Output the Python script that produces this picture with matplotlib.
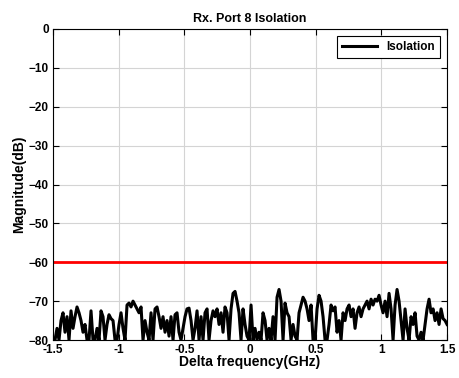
import numpy as np
import matplotlib.pyplot as plt

plt.rcParams['font.family'] = ['Liberation Sans', 'DejaVu Sans']
plt.rcParams['font.weight'] = 'bold'

# measured isolation trace (dB), evenly spaced over -1.5..1.5 GHz
isolation_db = [
    -80, -80, -77, -80, -75, -73, -78, -74, -80, -72.5,
    -77, -74, -71.5, -73, -75, -78, -76, -80, -80, -72.5,
    -80, -80, -77, -80, -72.5, -74, -80, -76, -73.5, -74.5,
    -75, -80, -80, -76, -73, -77, -80, -71, -70.5, -71.5,
    -70, -71, -72, -73, -71.5, -80, -75, -78, -80, -73,
    -80, -72, -71.5, -74, -77, -74, -78, -75, -79, -74,
    -80, -73.5, -73, -78, -80, -77, -74, -72, -71.8, -75,
    -80, -77, -72.5, -80, -74, -80, -73, -72, -80, -75,
    -72.5, -74, -72, -76, -73, -78, -71.5, -73, -80, -72,
    -68, -67.5, -70, -73, -80, -72, -76, -79, -80, -71,
    -80, -77, -80, -78, -80, -73, -75, -80, -77, -80,
    -74, -80, -69, -67, -70, -80, -70.5, -73, -74, -80,
    -76, -79, -80, -73, -71, -69, -70, -72, -75, -71,
    -80, -80, -72, -68.5, -70, -74, -80, -80, -76, -71,
    -72.5, -71.5, -78, -75, -80, -73, -75, -72, -71, -74,
    -72, -77, -73, -71.5, -74, -72, -71, -70, -72, -69.5,
    -71, -69.5, -70, -68.5, -71, -73, -70, -74, -68, -72,
    -80, -71, -67, -70, -75, -80, -72, -77, -80, -74,
    -76, -73, -79, -80, -78, -80, -76, -72, -69.5, -73,
    -72, -75, -73, -76, -72, -74.5, -75, -76,
]
limit_db = -60

freq_ghz = np.linspace(-1.5, 1.5, len(isolation_db))
x_ticks = [-1.5, -1, -0.5, 0, 0.5, 1, 1.5]
x_tick_labels = ['-1.5', '-1', '-0.5', '0', '0.5', '1', '1.5']
y_ticks = np.arange(-80, 1, 10)

fig = plt.figure(figsize=(4.59, 3.78), dpi=100)
ax = fig.add_axes([0.1155, 0.1005, 0.8585, 0.8228])

ax.plot(freq_ghz, np.maximum(isolation_db, -81), color='black', linewidth=2.2,
        label='Isolation')
ax.axhline(limit_db, color='red', linewidth=2.0)

ax.set_xlim(-1.5, 1.5)
ax.set_ylim(-80, 0)
ax.set_xticks(x_ticks)
ax.set_xticklabels(x_tick_labels)
ax.set_yticks(y_ticks)

ax.grid(True, color='#d4d4d4', linewidth=0.8)
ax.tick_params(direction='in', top=True, right=True, length=4, width=0.8,
               labelsize=8.5, pad=3)
for lbl in ax.get_xticklabels() + ax.get_yticklabels():
    lbl.set_fontweight('bold')
for s in ax.spines.values():
    s.set_linewidth(0.8)

ax.set_title('Rx. Port 8 Isolation', fontsize=9, fontweight='bold', pad=5)
ax.set_xlabel('Delta frequency(GHz)', fontsize=10, fontweight='bold', labelpad=-1)
ax.set_ylabel('Magnitude(dB)', fontsize=10, fontweight='bold', labelpad=2)

leg = ax.legend(loc='upper right', fancybox=False, framealpha=1,
                edgecolor='black', prop={'size': 8.5, 'weight': 'bold'},
                handlelength=3.0, borderaxespad=0.6)
leg.get_frame().set_linewidth(0.8)

fig.savefig('out.png', dpi=100)
